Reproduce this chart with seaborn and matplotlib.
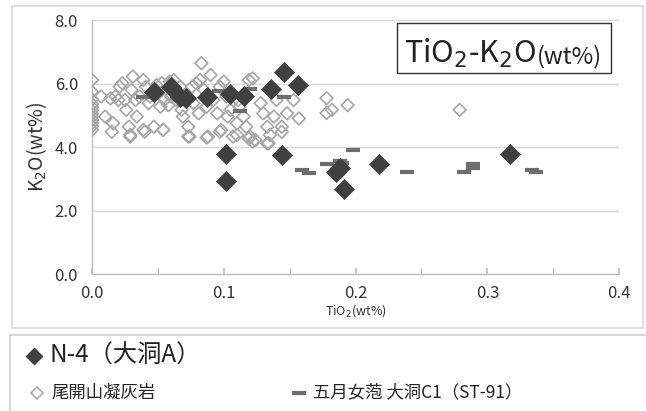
import numpy as np
import pandas as pd
import matplotlib
matplotlib.use("Agg")
import matplotlib.pyplot as plt
from matplotlib.patches import Rectangle
from matplotlib.lines import Line2D
import seaborn as sns

# N-4 (大洞A)
n4_tio2 = [0.047, 0.060, 0.067, 0.071, 0.087, 0.105, 0.115, 0.136, 0.146, 0.156,
           0.102, 0.102, 0.144, 0.188, 0.185, 0.191, 0.218, 0.317]
n4_k2o = [5.73, 5.89, 5.58, 5.54, 5.57, 5.67, 5.61, 5.83, 6.36, 5.95,
          3.78, 2.93, 3.75, 3.35, 3.22, 2.68, 3.46, 3.78]

# 尾開山凝灰岩
obi_tio2 = [0.0, 0.0, 0.0, 0.0, 0.0, 0.0, 0.0, 0.0, 0.0, 0.0, 0.0, 0.0,
            0.007, 0.010, 0.014, 0.016, 0.018, 0.020, 0.021, 0.023, 0.025, 0.026,
            0.028, 0.029, 0.030, 0.031, 0.033, 0.034, 0.036, 0.039, 0.039, 0.041,
            0.043, 0.044, 0.047, 0.049, 0.052, 0.053, 0.054, 0.055, 0.058, 0.059,
            0.060, 0.062, 0.064, 0.067, 0.068, 0.069, 0.072, 0.073, 0.074, 0.076,
            0.077, 0.079, 0.081, 0.082, 0.083, 0.085, 0.087, 0.088, 0.090, 0.092,
            0.095, 0.097, 0.098, 0.100, 0.102, 0.103, 0.105, 0.107, 0.110, 0.111,
            0.112, 0.115, 0.117, 0.119, 0.120, 0.122, 0.124, 0.128, 0.130, 0.133,
            0.134, 0.135, 0.138, 0.140, 0.144, 0.148, 0.153, 0.157,
            0.178, 0.178, 0.182, 0.194, 0.279,
            0.015, 0.029, 0.040, 0.054, 0.073, 0.087, 0.097, 0.110, 0.119, 0.122,
            0.133, 0.144]
obi_k2o = [6.11, 5.74, 5.50, 5.35, 5.25, 5.15, 5.05, 4.95, 4.85, 4.75, 4.65, 4.54,
           5.59, 4.96, 5.53, 4.75, 5.59, 5.48, 5.90, 6.01, 5.48, 5.17,
           4.64, 4.33, 5.80, 6.22, 5.48, 4.96, 5.59, 6.11, 4.54, 5.90,
           5.38, 5.59, 4.64, 5.95, 5.27, 6.01, 4.54, 5.48, 5.32, 6.06,
           5.59, 6.11, 5.48, 5.90, 5.17, 4.96, 5.59, 4.64, 4.33, 5.90,
           5.38, 6.01, 5.06, 6.11, 6.64, 5.80, 5.27, 4.33, 6.27, 5.48,
           5.06, 5.90, 4.54, 6.06, 5.59, 4.96, 5.17, 4.33, 4.75, 5.48,
           5.27, 4.96, 4.64, 6.11, 4.33, 6.16, 4.22, 5.38, 5.06, 4.64,
           4.12, 4.38, 4.96, 5.48, 4.64, 5.06, 5.48, 4.90,
           5.54, 5.07, 5.17, 5.32, 5.17,
           4.48, 4.38, 4.48, 4.54, 4.33, 4.30, 4.48, 4.38, 4.27, 4.17,
           4.11, 4.48]

# 五月女萢 大洞C1 (ST-91)
st91_tio2 = [0.039, 0.096, 0.112, 0.120, 0.146, 0.159, 0.165, 0.178, 0.188,
             0.190, 0.198, 0.239, 0.282, 0.289, 0.289, 0.334, 0.337]
st91_k2o = [5.58, 5.77, 5.13, 5.82, 5.58, 3.27, 3.19, 3.46, 3.56,
            3.50, 3.92, 3.22, 3.22, 3.48, 3.33, 3.27, 3.22]

obi = pd.DataFrame({"TiO2": obi_tio2, "K2O": obi_k2o})
st91 = pd.DataFrame({"TiO2": st91_tio2, "K2O": st91_k2o})
n4 = pd.DataFrame({"TiO2": n4_tio2, "K2O": n4_k2o})

sns.set_theme(style="white")
plt.rcParams['font.family'] = ['Noto Sans CJK JP', 'DejaVu Sans']
plt.rcParams['axes.unicode_minus'] = False

fig = plt.figure(figsize=(6.46, 4.11), dpi=100)
ax = fig.add_axes([0.1424, 0.3333, 0.816, 0.618])

# outer chart frame and legend frame
fig.patches.append(Rectangle((0.0186, 0.202), 0.976, 0.783, transform=fig.transFigure,
                             fill=False, edgecolor='#d9d9d9', lw=1.2, zorder=0))
fig.patches.append(Rectangle((0.0155, -0.01), 0.99, 0.195, transform=fig.transFigure,
                             fill=False, edgecolor='#d0d0d0', lw=1.2, zorder=0))

sns.scatterplot(x="TiO2", y="K2O", data=obi, ax=ax, marker='D', s=42,
                facecolor='none', edgecolor='#a6a6a6', linewidth=1.2, zorder=3)
ax.scatter(st91["TiO2"], st91["K2O"], marker='_', s=110, color='#6e6e6e',
           linewidths=3.0, zorder=4)
sns.scatterplot(x="TiO2", y="K2O", data=n4, ax=ax, marker='D', s=105,
                color='#404040', edgecolor='#404040', linewidth=0.5, zorder=5)

ax.set_xlim(0, 0.4)
ax.set_ylim(0, 8)
ax.set_yticks([0, 2, 4, 6, 8])
ax.set_yticklabels([f"{v:.1f}" for v in [0, 2, 4, 6, 8]], fontsize=12, color='#333333')
ax.set_xticks([0, 0.1, 0.2, 0.3, 0.4])
ax.set_xticklabels([f"{v:.1f}" for v in [0, 0.1, 0.2, 0.3, 0.4]], fontsize=12, color='#333333')
ax.set_xticks(np.arange(0.05, 0.4, 0.1), minor=True)
ax.tick_params(axis='x', which='both', direction='in', length=4, color='#bfbfbf',
               bottom=True, pad=8)
ax.tick_params(axis='y', length=0, pad=10)
ax.grid(axis='y', color='#d9d9d9', lw=1)
ax.set_axisbelow(True)
for s in ['top', 'right']:
    ax.spines[s].set_visible(False)
for s in ['left', 'bottom']:
    ax.spines[s].set_color('#bfbfbf')
    ax.spines[s].set_linewidth(1)

ax.set_xlabel('TiO$_2$(wt%)', fontsize=9, color='#333333', labelpad=0)
ax.set_ylabel('K$_2$O(wt%)', fontsize=14, color='#333333', labelpad=4)

# title box: main part larger, "(wt%)" smaller
t2 = ax.text(0.968, 0.83, '(wt%)', transform=ax.transAxes, ha='right', va='baseline',
             fontsize=17, color='#222222', zorder=7)
fig.canvas.draw()
r = fig.canvas.get_renderer()
bb = t2.get_window_extent(r).transformed(ax.transAxes.inverted())
t1 = ax.text(bb.x0 - 0.003, 0.83, 'TiO$_2$-K$_2$O', transform=ax.transAxes, ha='right',
             va='baseline', fontsize=22, color='#222222', zorder=7)
bb1 = t1.get_window_extent(r).transformed(ax.transAxes.inverted())
ax.add_patch(Rectangle((bb1.x0 - 0.012, 0.79), 0.985 - bb1.x0 + 0.012, 0.198,
                       transform=ax.transAxes, facecolor='white', edgecolor='#333333',
                       lw=1, zorder=6))

# legend drawn in figure coordinates
fig.add_artist(Line2D([0.052], [0.135], marker='D', markersize=8, color='#404040',
                      transform=fig.transFigure))
fig.text(0.077, 0.135, 'N-4（大洞A）', fontsize=17.5, va='center', color='#222222')
fig.add_artist(Line2D([0.057], [0.045], marker='D', markersize=6, markerfacecolor='white',
                      markeredgecolor='#a6a6a6', markeredgewidth=1.1, color='#a6a6a6',
                      transform=fig.transFigure))
fig.text(0.080, 0.045, '尾開山凝灰岩', fontsize=12.5, va='center', color='#222222')
fig.add_artist(Line2D([0.463], [0.045], marker='_', markersize=10, markeredgewidth=3,
                      color='#6e6e6e', transform=fig.transFigure))
fig.text(0.484, 0.045, '五月女萢 大洞C1（ST-91）', fontsize=12.5, va='center', color='#222222')

fig.savefig("out.png", dpi=100)
